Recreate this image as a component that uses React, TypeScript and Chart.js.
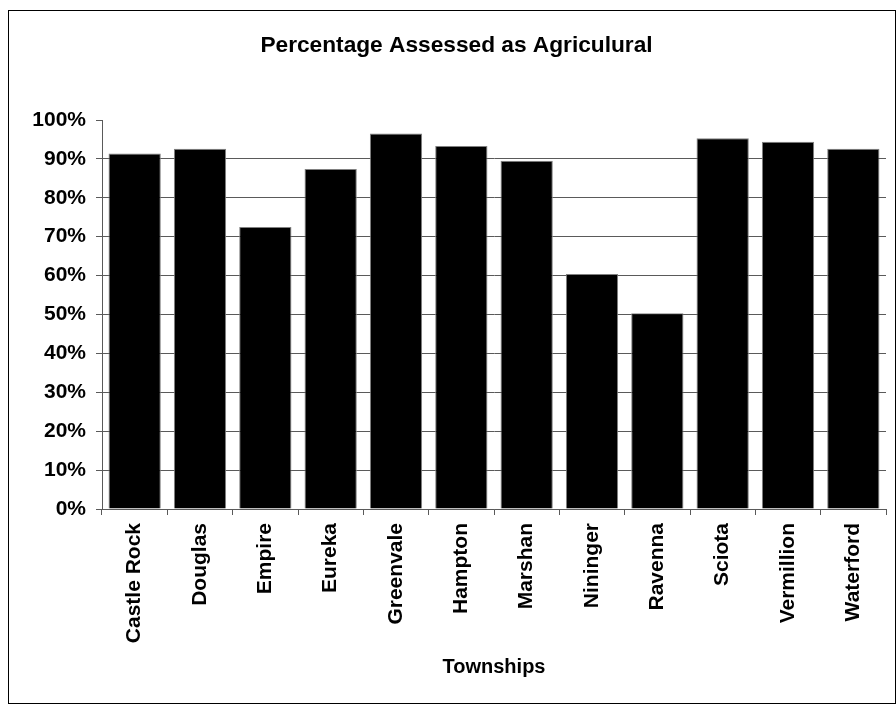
import React, { useEffect, useRef } from "react";
import { Chart, registerables } from "chart.js";

Chart.register(...registerables);

// Share of each township's assessed land classed as agricultural (percent)
const townships = [
  "Castle Rock",
  "Douglas",
  "Empire",
  "Eureka",
  "Greenvale",
  "Hampton",
  "Marshan",
  "Nininger",
  "Ravenna",
  "Sciota",
  "Vermillion",
  "Waterford",
];
const agriculturalPct = [91.4, 92.6, 72.5, 87.4, 96.5, 93.3, 89.5, 60.4, 50.3, 95.3, 94.4, 92.6];
const yTickValues = [0, 10, 20, 30, 40, 50, 60, 70, 80, 90, 100];

const chartTitle = "Percentage Assessed as Agriculural";
const xAxisTitle = "Townships";

const FONT = "'Liberation Sans', Arial, Helvetica, sans-serif";
const AXIS_GREY = "#5a5a5a";

// Outer frame and the centred chart heading
const frameAndTitle = {
  id: "frameAndTitle",
  beforeDraw(chart: any) {
    const { ctx, width, height } = chart;
    ctx.save();
    ctx.fillStyle = "#ffffff";
    ctx.fillRect(0, 0, width, height);
    ctx.restore();
  },
  afterDraw(chart: any) {
    const { ctx } = chart;
    ctx.save();
    ctx.strokeStyle = "#000000";
    ctx.lineWidth = 1;
    ctx.strokeRect(8.5, 10.5, 887, 693);
    ctx.fillStyle = "#000000";
    ctx.font = `bold 22.7px ${FONT}`;
    ctx.textAlign = "center";
    ctx.textBaseline = "alphabetic";
    ctx.fillText(chartTitle, 456.5, 52);
    ctx.restore();
  },
};

export default function App() {
  const canvasRef = useRef<HTMLCanvasElement | null>(null);

  useEffect(() => {
    if (!canvasRef.current) return;
    Chart.defaults.font.family = FONT;

    const chart = new Chart(canvasRef.current, {
      type: "bar",
      data: {
        labels: townships,
        datasets: [
          {
            label: "Agricultural",
            data: agriculturalPct,
            backgroundColor: "#000000",
            borderColor: "#808080",
            borderWidth: 1,
            borderSkipped: "bottom",
            barPercentage: 0.8,
            categoryPercentage: 1,
          },
        ],
      },
      options: {
        responsive: false,
        animation: false,
        devicePixelRatio: 1,
        layout: { padding: { top: 120, right: 10, bottom: 0, left: 0 } },
        plugins: {
          legend: { display: false },
          tooltip: { enabled: false },
          title: { display: false },
        },
        scales: {
          x: {
            offset: true,
            grid: {
              offset: true,
              drawOnChartArea: false,
              drawTicks: true,
              tickLength: 6,
              tickColor: AXIS_GREY,
              color: AXIS_GREY,
            },
            border: { display: true, color: AXIS_GREY, width: 1 },
            ticks: {
              autoSkip: false,
              maxRotation: 90,
              minRotation: 90,
              padding: 8,
              color: "#000000",
              font: { size: 21, weight: "bold", family: FONT },
            },
            title: {
              display: true,
              text: xAxisTitle,
              color: "#000000",
              font: { size: 20, weight: "bold", family: FONT },
              padding: { top: 0, bottom: 24.5 },
            },
            afterFit: (scale: any) => {
              scale.height = 195;
            },
          },
          y: {
            min: 0,
            max: 100,
            afterBuildTicks: (scale: any) => {
              scale.ticks = yTickValues.map((v) => ({ value: v }));
            },
            ticks: {
              padding: 10,
              color: "#000000",
              font: { size: 21, weight: "bold", family: FONT },
              callback: (v: any) => `${v}%`,
            },
            grid: {
              color: (ctx: any) =>
                ctx.tick && ctx.tick.value === 100 ? "rgba(0,0,0,0)" : AXIS_GREY,
              tickColor: AXIS_GREY,
              tickLength: 6,
              lineWidth: 1,
            },
            border: { display: true, color: AXIS_GREY, width: 1 },
            afterFit: (scale: any) => {
              scale.width = 102;
            },
          },
        },
      },
      plugins: [frameAndTitle],
    });

    return () => chart.destroy();
  }, []);

  return (
    <div style={{ position: "fixed", left: 0, top: 0, width: 896, height: 704 }}>
      <canvas ref={canvasRef} width={896} height={704} style={{ display: "block" }} />
    </div>
  );
}
